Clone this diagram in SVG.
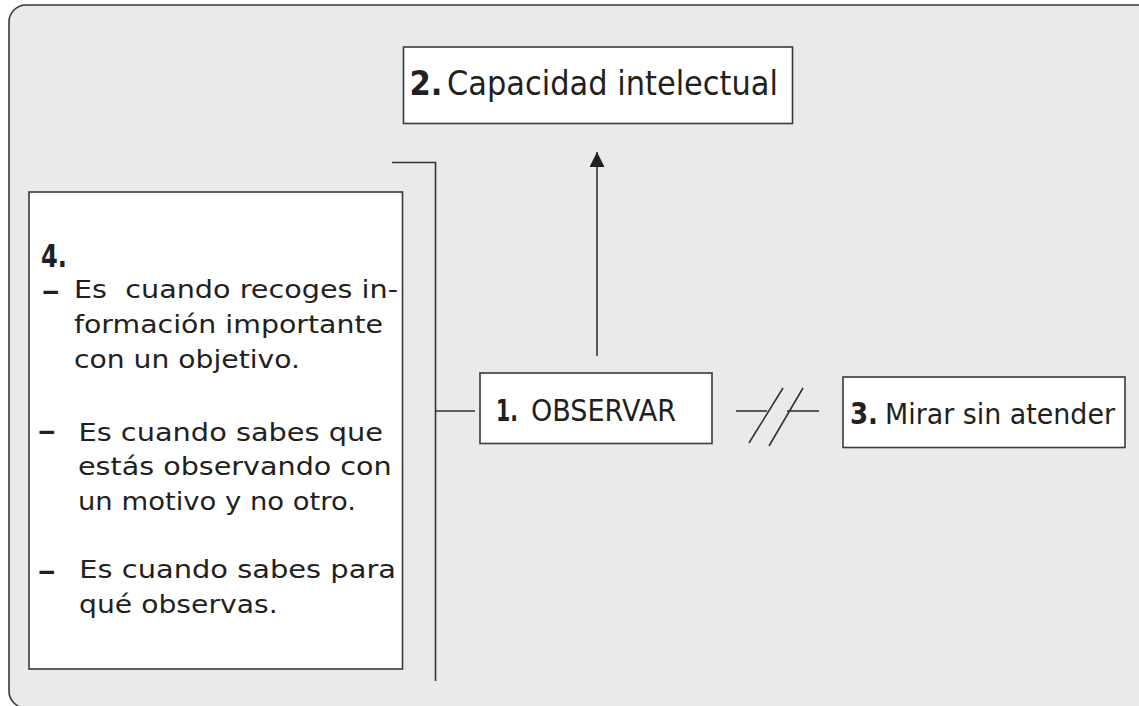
<svg xmlns="http://www.w3.org/2000/svg" width="1139" height="706" viewBox="0 0 1139 706">
<style>
.box{fill:#fff;stroke:#3a3a3a;stroke-width:1.6}
.ln{fill:none;stroke:#333;stroke-width:1.6}
.t{font-family:"DejaVu Sans","Liberation Sans",sans-serif;fill:#231f20}
.b{font-weight:bold}
.pre{white-space:pre}
</style>
<defs>
<marker id="ah" markerWidth="15" markerHeight="15" refX="15" refY="7.5" orient="auto" markerUnits="userSpaceOnUse">
<path d="M0,0 L15,7.5 L0,15 Z" fill="#231f20"/>
</marker>
</defs>
<rect x="0" y="0" width="1139" height="706" fill="#fff"/>
<rect x="9" y="5" width="1160" height="703" rx="17" ry="17" fill="#e9eaec" stroke="#3a3a3a" stroke-width="1.6"/>

<g id="connectors">
<path class="ln" d="M392,162.5 H435.5 V681"/>
<path class="ln" d="M435.5,411 H475"/>
<path class="ln" d="M597,356 V152" marker-end="url(#ah)"/>
<path class="ln" d="M736,411 H767"/>
<path class="ln" d="M749,443 L783,388"/>
<path class="ln" d="M769,446 L803,388"/>
<path class="ln" d="M787,411 H819"/>
</g>

<g id="node2">
<rect class="box" x="403.5" y="47" width="389" height="76.5"/>
<text class="t b" x="409.5" y="94.5" font-size="34" textLength="33" lengthAdjust="spacingAndGlyphs">2.</text>
<text class="t" x="447" y="94.5" font-size="33" textLength="331" lengthAdjust="spacingAndGlyphs">Capacidad intelectual</text>
</g>

<g id="node1">
<rect class="box" x="480" y="373" width="232" height="70.5"/>
<text class="t b" x="496" y="421" font-size="30" textLength="22" lengthAdjust="spacingAndGlyphs">1.</text>
<text class="t" x="531" y="421" font-size="30" textLength="145" lengthAdjust="spacingAndGlyphs">OBSERVAR</text>
</g>

<g id="node3">
<rect class="box" x="843" y="377" width="282" height="70.5"/>
<text class="t b" x="850" y="423.5" font-size="30" textLength="28" lengthAdjust="spacingAndGlyphs">3.</text>
<text class="t" x="885" y="423.5" font-size="29" textLength="230" lengthAdjust="spacingAndGlyphs">Mirar sin atender</text>
</g>

<g id="node4">
<rect class="box" x="29" y="192" width="373.5" height="477"/>
<text class="t b" x="41" y="266.7" font-size="32" textLength="26" lengthAdjust="spacingAndGlyphs">4.</text>
<text class="t b" x="41.5" y="300" font-size="26" textLength="18.5" lengthAdjust="spacingAndGlyphs">–</text>
<text class="t pre" x="74" y="298.3" font-size="25" textLength="324" lengthAdjust="spacingAndGlyphs">Es  cuando recoges in-</text>
<text class="t" x="74" y="333.3" font-size="25" textLength="309" lengthAdjust="spacingAndGlyphs">formación importante</text>
<text class="t" x="74" y="368.3" font-size="25" textLength="226" lengthAdjust="spacingAndGlyphs">con un objetivo.</text>
<text class="t b" x="37.5" y="439.5" font-size="26" textLength="18.5" lengthAdjust="spacingAndGlyphs">–</text>
<text class="t" x="78.5" y="440.5" font-size="25" textLength="304.5" lengthAdjust="spacingAndGlyphs">Es cuando sabes que</text>
<text class="t" x="78" y="475.3" font-size="25" textLength="313.7" lengthAdjust="spacingAndGlyphs">estás observando con</text>
<text class="t" x="78" y="510.3" font-size="25" textLength="278" lengthAdjust="spacingAndGlyphs">un motivo y no otro.</text>
<text class="t b" x="37.5" y="580" font-size="26" textLength="18.5" lengthAdjust="spacingAndGlyphs">–</text>
<text class="t" x="79.3" y="578.3" font-size="25" textLength="316.7" lengthAdjust="spacingAndGlyphs">Es cuando sabes para</text>
<text class="t" x="79" y="613.3" font-size="25" textLength="198.7" lengthAdjust="spacingAndGlyphs">qué observas.</text>
</g>
</svg>
